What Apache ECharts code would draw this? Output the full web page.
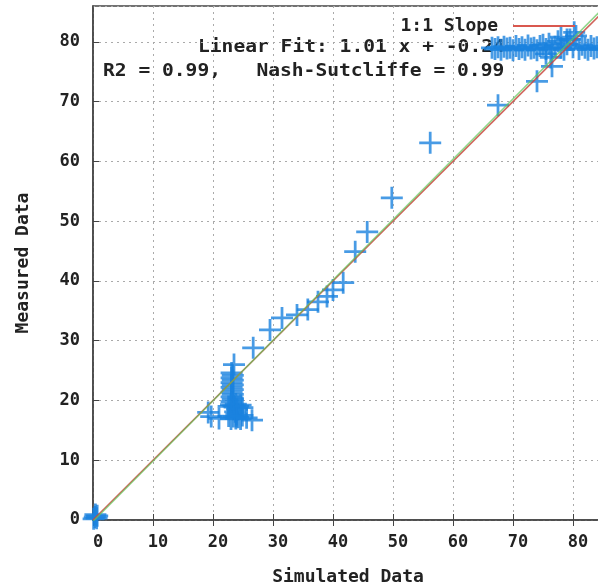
<!DOCTYPE html>
<html>
<head>
<meta charset="utf-8">
<script src="https://cdn.jsdelivr.net/npm/echarts@6/dist/echarts.min.js"></script>
<style>
  html, body { margin: 0; padding: 0; background: #ffffff; }
  #chart { width: 598px; height: 587px; }
</style>
</head>
<body>
<div id="chart"></div>
<script>
// Simulated vs measured values (paired by index)
const simulated = [
  // near zero
  0.3, 0.6, 0.4, 0.1, 0.7,
  // low cluster: block
  23.0, 23.0, 23.4, 23.4, 23.8, 23.8, 24.2, 24.2, 24.6, 24.6, 24.9, 24.9,
  23.9, 23.7, 24.0, 23.6, 23.9, 22.6, 22.6,
  // low cluster: column
  23.1, 23.3, 23.1, 23.3, 23.1, 23.3, 23.1, 23.3, 23.1, 23.3, 23.1, 23.3, 23.1, 23.5,
  // low cluster: edges
  26.5, 25.6, 19.7, 21.0, 19.2,
  // along the line
  26.7, 29.5, 31.5, 34.0, 35.8, 37.5, 39.0, 40.0, 41.7, 43.7, 45.7, 49.8, 56.2, 67.5, 74.0, 76.5,
  // high cluster
  66.5, 67.0, 67.5, 68.0, 68.5, 69.0, 69.5, 70.0, 70.5, 71.0, 71.5, 72.0, 72.5, 73.0, 73.5, 74.0,
  74.5, 75.0, 75.5, 76.0, 76.5, 77.0, 77.5, 78.0, 78.5, 79.0, 79.5, 80.0, 80.5, 81.0, 81.5, 82.0,
  82.5, 83.0, 83.5, 84.0, 84.5,
  76.3, 80.2, 75.5, 79.0, 78.0
];
const measured = [
  // near zero
  0.5, 0.3, 0.9, 0.2, 0.7,
  // low cluster: block
  16.9, 19.3, 17.3, 19.1, 17.0, 19.4, 17.2, 19.0, 16.9, 19.2, 17.5, 18.8,
  17.7, 18.1, 18.5, 18.9, 17.3, 17.4, 19.0,
  // low cluster: column
  19.8, 20.2, 20.6, 21.0, 21.4, 21.8, 22.2, 22.6, 23.0, 23.4, 23.8, 24.2, 24.6, 26.0,
  // low cluster: edges
  16.7, 17.1, 17.3, 17.0, 18.0,
  // along the line
  28.8, 31.8, 33.8, 34.3, 35.2, 36.5, 37.4, 38.5, 39.7, 44.9, 48.2, 53.9, 63.1, 69.4, 73.4, 75.9,
  // high cluster
  79.0, 78.8, 79.1, 78.7, 79.2, 78.9, 79.0, 78.6, 79.3, 78.8, 79.1, 78.7, 79.4, 78.9, 79.0, 78.6,
  79.3, 79.5, 78.8, 79.7, 78.9, 79.2, 80.1, 79.0, 78.7, 79.6, 80.4, 79.1, 81.0, 78.8, 79.5, 79.0,
  78.7, 79.3, 78.9, 79.1, 78.8,
  77.4, 81.6, 78.0, 80.4, 80.8
];

// Reference lines
const oneToOne = [[0, 0], [85, 85]];
const linearFit = [[0, -0.24], [85, 85.61]];

// Axis ranges and tick spacing
const xRange = [0, 85];
const yRange = [0, 86];
const tickStep = 10;

// Annotation text
const fitText = 'Linear Fit: 1.01 x + -0.24';
const statsText = 'R2 = 0.99,   Nash-Sutcliffe = 0.99';

const points = simulated.map((v, i) => [v, measured[i]]);

const monoFont = 'DejaVu Sans Mono';
const labelStyle = { fontFamily: monoFont, fontWeight: 'bold', fontSize: 17, color: '#222' };
// plus-shaped marker, arms about 2.5 units thick in a 20-unit box
const plusPath = 'path://M8.75,0h2.5v8.75h8.75v2.5h-8.75v8.75h-2.5v-8.75h-8.75v-2.5h8.75z';

const chart = echarts.init(document.getElementById('chart'), null, { renderer: 'canvas' });

chart.setOption({
  animation: false,
  backgroundColor: '#ffffff',
  grid: {
    left: 93, top: 6, width: 510, height: 514,
    outerBoundsMode: 'none', containLabel: false,
    show: true, borderColor: '#444', borderWidth: 1.5, backgroundColor: 'transparent'
  },
  legend: {
    data: ['1:1 Slope'],
    right: 18, top: 12,
    align: 'right',
    icon: 'rect',
    itemWidth: 62, itemHeight: 2,
    textStyle: { fontFamily: monoFont, fontWeight: 'bold', fontSize: 18, color: '#222', padding: [0, 10, 0, 0] },
    selectedMode: false
  },
  xAxis: [{
    type: 'value', min: xRange[0], max: xRange[1], interval: tickStep,
    name: 'Simulated Data', nameLocation: 'middle', nameGap: 48,
    nameTextStyle: { fontFamily: monoFont, fontWeight: 'bold', fontSize: 18, color: '#222' },
    axisLine: { show: true, onZero: false, lineStyle: { color: '#444', width: 1.5 } },
    axisTick: { show: true, inside: true, length: 6, lineStyle: { color: '#444' } },
    axisLabel: Object.assign({ margin: 14, showMaxLabel: false, padding: [0, 0, 0, 10] }, labelStyle),
    splitLine: { show: true, lineStyle: { color: '#aaa', type: [2, 4], width: 1 } }
  }, {
    type: 'value', position: 'top', min: xRange[0], max: xRange[1], interval: tickStep,
    axisLine: { show: false },
    axisTick: { show: true, inside: true, length: 6, lineStyle: { color: '#444' } },
    axisLabel: { show: false },
    splitLine: { show: false }
  }],
  yAxis: {
    type: 'value', min: yRange[0], max: yRange[1], interval: tickStep,
    name: 'Measured Data', nameLocation: 'middle', nameGap: 61,
    nameTextStyle: { fontFamily: monoFont, fontWeight: 'bold', fontSize: 18, color: '#222' },
    axisLine: { show: true, onZero: false, lineStyle: { color: '#444', width: 1.5 } },
    axisTick: { show: true, inside: true, length: 6, lineStyle: { color: '#444' } },
    axisLabel: Object.assign({ margin: 13, showMaxLabel: false }, labelStyle),
    splitLine: { show: true, lineStyle: { color: '#aaa', type: [2, 4], width: 1 } }
  },
  graphic: [
    {
      type: 'text', x: 198, y: 48, z: 0, scaleX: 1.153,
      style: { text: fitText, font: 'bold 17px "DejaVu Sans Mono"', fill: '#222', verticalAlign: 'middle' }
    },
    {
      type: 'text', x: 103, y: 72, z: 0, scaleX: 1.153,
      style: { text: statsText, font: 'bold 17px "DejaVu Sans Mono"', fill: '#222', verticalAlign: 'middle' }
    }
  ],
  series: [
    {
      name: 'data', type: 'scatter', data: points,
      symbol: plusPath, symbolSize: 22,
      itemStyle: { color: '#1a82de' },
      z: 3
    },
    {
      name: '1:1 Slope', type: 'line', data: oneToOne,
      showSymbol: false, symbol: 'none',
      itemStyle: { color: '#d9584f' },
      lineStyle: { color: '#c8493e', width: 1.6, opacity: 0.85 },
      z: 4
    },
    {
      name: 'Linear Fit', type: 'line', data: linearFit,
      showSymbol: false, symbol: 'none',
      itemStyle: { color: '#62c45a' },
      lineStyle: { color: '#62c45a', width: 1.5, opacity: 0.7 },
      z: 5
    }
  ]
});
</script>
</body>
</html>
